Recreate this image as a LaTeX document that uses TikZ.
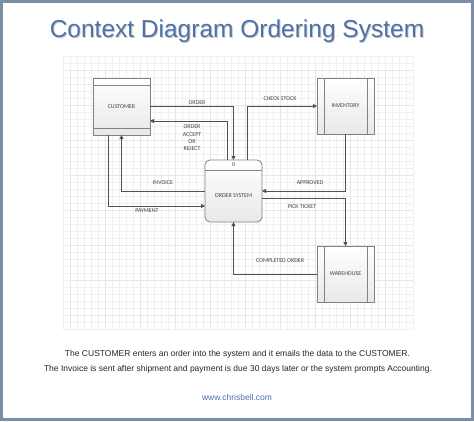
\documentclass[tikz,border=0pt]{standalone}
\usepackage{fontspec}
\setmainfont{Liberation Sans}
\newfontfamily\lblfont{Carlito}
\usetikzlibrary{arrows.meta}
\definecolor{framec}{RGB}{122,142,168}
\definecolor{titlec}{RGB}{76,114,168}
\definecolor{linec}{RGB}{80,80,80}
\definecolor{boxc}{RGB}{130,130,130}
\definecolor{gridminor}{RGB}{240,240,240}
\definecolor{gridmajor}{RGB}{230,230,230}
\begin{document}
\begin{tikzpicture}[x=1pt,y=-1pt,
 every node/.style={inner sep=0pt, outer sep=0pt},
 ent/.style={draw=boxc, line width=0.8pt, top color=white, bottom color=gray!18, minimum width=57pt, minimum height=57pt},
 proc/.style={ent, rounded corners=5pt, minimum height=62pt},
 lbl/.style={font=\lblfont\fontsize{5.9}{7.3}\selectfont, text=black!75, align=center},
 divider/.style={draw=boxc, line width=0.8pt},
 flow/.style={draw=linec, line width=0.8pt, -{Triangle[length=4pt,width=4pt]}},
 body/.style={font=\fontsize{8.5}{10}\selectfont, text=black!85}]

\useasboundingbox (0,0) rectangle (474,421);
\fill[white] (0,0) rectangle (474,421);
% grid
\draw[gridminor, line width=0.4pt] (63,56) grid[step=7pt] (413,329);
\draw[gridmajor, line width=0.5pt] (70,70) grid[step=35pt] (413,329);
% frame
\draw[framec, line width=3pt] (1.5,1.5) rectangle (472.5,419.5);

% title
\node[font=\fontsize{24.5}{30}\selectfont, text=black!20] at (238,32) {Context Diagram Ordering System};
\node[font=\fontsize{24.5}{30}\selectfont, text=titlec] (title) at (237,31) {Context Diagram Ordering System};

% entities
\node[ent] (cust) at (121.5,106.5) {};
\draw[divider] ([yshift=-7pt]cust.north west) -- ([yshift=-7pt]cust.north east);
\draw[divider] ([yshift=7pt]cust.south west) -- ([yshift=7pt]cust.south east);
\node[lbl] (custlbl) at (cust.center) {CUSTOMER};

\node[proc] (sys) at (233.5,191) {};
\draw[divider] ([yshift=-10pt]sys.north west) -- ([yshift=-10pt]sys.north east);
\node[lbl] (sysnum) at (233.5,164.5) {0};
\node[lbl] (syslbl) at (233.5,196) {ORDER SYSTEM};

\node[ent, minimum height=56pt] (inv) at (345.5,106) {};
\draw[divider] ([xshift=7pt]inv.north west) -- ([xshift=7pt]inv.south west);
\draw[divider] ([xshift=-7pt]inv.north east) -- ([xshift=-7pt]inv.south east);
\node[lbl] (invlbl) at (inv.center) {INVENTORY};

\node[ent, minimum height=56pt] (wh) at (345.5,274) {};
\draw[divider] ([xshift=7pt]wh.north west) -- ([xshift=7pt]wh.south west);
\draw[divider] ([xshift=-7pt]wh.north east) -- ([xshift=-7pt]wh.south east);
\node[lbl] (whlbl) at (wh.center) {WAREHOUSE};

% flows
\draw[flow] (cust.east) -| (sys.north);
\draw[flow] ([xshift=-6.5pt]sys.north) |- (cust.east |- 0,121);
\draw[flow] ([xshift=13.5pt]sys.north) |- (inv.west);
\draw[flow] (inv.south) |- (sys.east);
\draw[flow] ([yshift=-7pt]sys.east) -| (wh.north);
\draw[flow] (wh.west) -| (sys.south);
\draw[flow] (sys.west) -| (cust.south);
\draw[flow] ([xshift=-13.5pt]cust.south) |- ([yshift=-15pt]sys.west);

% flow labels
\node[lbl] (lorder) at (197,103) {ORDER};
\node[lbl] (laccept) at (192,138) {ORDER\\ACCEPT\\OR\\REJECT};
\node[lbl] (linvoice) at (163,183) {INVOICE};
\node[lbl] (lpayment) at (147,211) {PAYMENT};
\node[lbl] (lcheck) at (280,99) {CHECK STOCK};
\node[lbl] (lapproved) at (310,183) {APPROVED};
\node[lbl] (lpick) at (302,207) {PICK TICKET};
\node[lbl] (lcompleted) at (280,261) {COMPLETED ORDER};

% caption
\node[body] (cap1) at (237.5,354) {The CUSTOMER enters an order into the system and it emails the data to the CUSTOMER.};
\node[body] (cap2) at (238,369) {The Invoice is sent after shipment and payment is due 30 days later or the system prompts Accounting.};
\node[body, text=titlec] (url) at (237,397) {www.chrisbell.com};
\end{tikzpicture}
\end{document}
